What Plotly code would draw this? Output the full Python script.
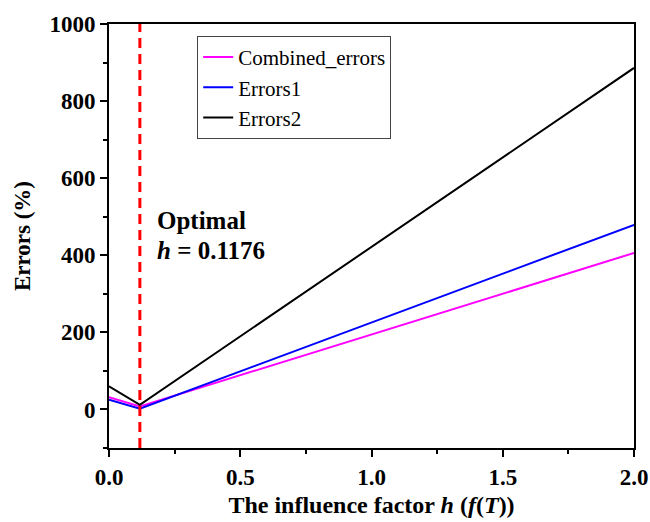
import plotly.graph_objects as go

h_vals = [0.0, 0.1176, 2.0]
combined_errors = [32, 8, 406]
errors1 = [25, 2, 479]
errors2 = [60, 12, 886]
h_opt = 0.1176

FONT = "'Liberation Serif', 'Times New Roman', Times, serif"

fig = go.Figure()
fig.add_trace(go.Scatter(x=h_vals, y=combined_errors, mode="lines", name="Combined_errors",
                         line=dict(color="#ff00ff", width=2)))
fig.add_trace(go.Scatter(x=h_vals, y=errors1, mode="lines", name="Errors1",
                         line=dict(color="#0000ff", width=2)))
fig.add_trace(go.Scatter(x=h_vals, y=errors2, mode="lines", name="Errors2",
                         line=dict(color="#000000", width=2)))

fig.add_shape(type="line", xref="x", yref="paper", x0=h_opt, x1=h_opt, y0=0, y1=1,
              line=dict(color="#ff0000", width=3, dash="10px,6px"))

fig.add_annotation(x=0.175, y=491, xref="x", yref="y", xanchor="left", yanchor="middle",
                   text="<b>Optimal</b>", showarrow=False,
                   font=dict(family=FONT, size=25, color="black"))
fig.add_annotation(x=0.175, y=413, xref="x", yref="y", xanchor="left", yanchor="middle",
                   text="<b><i>h</i> = 0.1176</b>", showarrow=False,
                   font=dict(family=FONT, size=25, color="black"))

fig.update_layout(
    width=650, height=522,
    margin=dict(l=109, r=16, t=24, b=74),
    paper_bgcolor="white", plot_bgcolor="white",
    font=dict(family=FONT, color="black"),
    showlegend=True,
    legend=dict(x=0.168, y=0.972, xanchor="left", yanchor="top",
                bgcolor="white", bordercolor="#444", borderwidth=1,
                font=dict(family=FONT, size=21, color="black"),
                tracegroupgap=0),
    xaxis=dict(range=[0, 2], tick0=0, dtick=0.5, tickformat=".1f", automargin=False,
               ticks="outside", ticklen=7, tickwidth=2, tickcolor="black",
               showline=True, linewidth=2, linecolor="black", mirror=True,
               showgrid=False, zeroline=False,
               minor=dict(dtick=0.25, ticks="outside", ticklen=4, tickwidth=2, tickcolor="black"),
               tickfont=dict(family=FONT, size=23, color="black"),
               title=dict(text="<b>The influence factor <i>h</i> (<i>f</i>(<i>T</i>))</b>",
                          font=dict(family=FONT, size=24, color="black"), standoff=8)),
    yaxis=dict(range=[-100, 1000], tick0=0, dtick=200, automargin=False,
               ticks="outside", ticklen=7, tickwidth=2, tickcolor="black",
               showline=True, linewidth=2, linecolor="black", mirror=True,
               showgrid=False, zeroline=False,
               minor=dict(dtick=100, ticks="outside", ticklen=4, tickwidth=2, tickcolor="black"),
               tickfont=dict(family=FONT, size=23, color="black"),
               title=dict(text="<b>Errors (%)</b>",
                          font=dict(family=FONT, size=23, color="black"), standoff=12)),
)
fig.update_xaxes(tickprefix="<b>", ticksuffix="</b>")
fig.update_yaxes(tickprefix="<b>", ticksuffix="</b>")

fig.write_html("out.html")
